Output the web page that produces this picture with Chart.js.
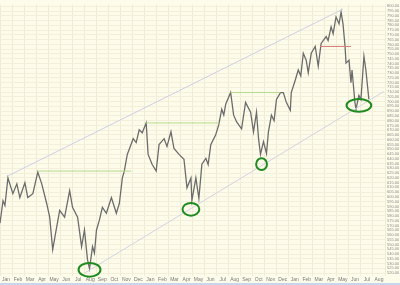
<!DOCTYPE html>
<html>
<head>
<meta charset="utf-8">
<script src="https://cdn.jsdelivr.net/npm/chart.js@4/dist/chart.umd.min.js"></script>
<style>
  body { margin: 0; background: #fdfcea; }
  #wrap { width: 400px; height: 283px; }
  #scroll { width: 400px; height: 2px; background: #c6d6ef; }
</style>
</head>
<body>
<div id="wrap"><canvas id="chart" width="400" height="283"></canvas></div>
<div id="scroll"></div>
<script>
// month labels along the bottom (Jan of year 1 .. Aug of year 3)
const monthLabels = ['Jan','Feb','Mar','Apr','May','Jun','Jul','Aug','Sep','Oct','Nov','Dec',
  'Jan','Feb','Mar','Apr','May','Jun','Jul','Aug','Sep','Oct','Nov','Dec',
  'Jan','Feb','Mar','Apr','May','Jun','Jul','Aug'];

// price path, x = months since first Jan
const priceMonth = [0, 0.25, 0.41, 0.66, 1.07, 1.40, 1.65, 2.07, 2.31, 2.73,
  3.14, 3.47, 3.88, 4.13, 4.38, 4.71, 4.96, 5.37, 5.79, 6.03,
  6.45, 6.78, 7.02, 7.27, 7.44, 7.69, 7.85, 8.02, 8.26, 8.51, 8.84,
  9.26, 9.67, 9.92, 10.17, 10.33, 10.58, 10.83, 11.07, 11.32, 11.57,
  11.82, 12.15, 12.31, 12.64, 12.98, 13.22, 13.64, 13.88, 14.21, 14.46,
  14.88, 15.29, 15.54, 15.87, 15.95, 16.28, 16.53, 16.78, 17.11, 17.30, 17.52,
  17.93, 18.18, 18.43, 18.60, 18.76, 19.17, 19.42, 19.67, 20.08, 20.41, 20.83,
  21.07, 21.32, 21.49, 21.65, 21.90, 22.15, 22.31, 22.56, 22.78, 22.98, 23.31,
  23.55, 23.80, 24.13, 24.21, 24.55, 24.79, 25.00, 25.21, 25.45, 25.62, 25.87,
  26.20, 26.45, 26.69, 27.11, 27.27, 27.52, 27.69, 27.93, 28.18, 28.35,
  28.51, 28.68, 28.76, 29.01, 29.17, 29.26, 29.50, 29.59, 29.83, 30.00,
  30.25, 30.41, 30.66];
const priceValue = [572.5, 596, 591, 619.9, 603.4, 613.7, 599.3, 614.8, 599.3, 603.4,
  626.1, 613.7, 593.1, 578.7, 544.7, 568.4, 585.9, 578.7, 606.5, 589.0,
  578.7, 547.8, 565.3, 534.4, 524.5, 547.8, 541.0, 565.3, 575.6, 589.0, 582.8,
  599.3, 582.8, 593.1, 619.9, 627.1, 644.6, 652.9, 661.1, 657.0, 670.4,
  667.3, 677.6, 644.6, 634.3, 627.1, 654.9, 661.1, 652.9, 668.3, 650.8,
  644.6, 639.5, 609.6, 619.9, 596.2, 619.9, 598.3, 634.3, 640.5, 634.0, 654.9,
  665.2, 675.5, 692.0, 686.0, 697.2, 709.5, 685.8, 678.6, 671.4, 699.2, 688.9,
  668.3, 688.9, 661.1, 644.6, 658.0, 645.7, 668.3, 685.8, 680.0, 702.3, 709.5,
  709.5, 699.2, 691.0, 709.5, 722.9, 733.2, 727.0, 750.7, 743.5, 730.1, 750.7,
  757.9, 737.3, 761.0, 768.2, 764.1, 778.5, 771.3, 788.8, 781.6, 794.0,
  781.6, 757.9, 740.4, 743.5, 719.8, 733.2, 699.2, 692.0, 706.4, 702.3,
  747.6, 733.2, 702.3];

// trend channel (start/end month, start/end price)
const upperChannel = [[0.66, 622.0], [28.51, 797.1]];
const lowerChannel = [[7.02, 520.0], [31.9, 710.6]];

// horizontal resistance levels
const greenLevels = [
  [[3.14, 627.1], [10.9, 627.1]],
  [[12.15, 677.6], [18.2, 677.6]],
  [[19.17, 709.5], [23.3, 709.5]]
];
const redLevel = [[26.6, 757.9], [29.17, 757.9]];

// circled lows
const circleMonth = [7.44, 15.87, 21.74, 29.83];
const circleValue = [523.5, 587.0, 634.3, 696.1];
const circleRadiusMonths = [0.91, 0.70, 0.45, 1.03];
const circleRadiusPrice = [7.2, 6.7, 6.2, 6.7];

const yMin = 517, yMax = 802, yStep = 5, yFirstTick = 520, yLastTick = 800;

const pts = (arr) => arr.map(p => ({x: p[0], y: p[1]}));

const datasets = [];
datasets.push({ data: pts(upperChannel), borderColor: '#cdcfe3', borderWidth: 1 });
datasets.push({ data: pts(lowerChannel), borderColor: '#d2d3e3', borderWidth: 1 });
greenLevels.forEach(l => datasets.push({ data: pts(l), borderColor: '#b4da8c', borderWidth: 1 }));
datasets.push({ data: pts(redLevel), borderColor: '#d77a74', borderWidth: 1 });
datasets.push({
  data: priceMonth.map((m, i) => ({x: m, y: priceValue[i]})),
  borderColor: '#6c6c6c',
  borderWidth: 1.3
});

const circlePlugin = {
  id: 'circles',
  afterDatasetsDraw(chart) {
    const {ctx, scales: {x, y}} = chart;
    ctx.save();
    ctx.strokeStyle = '#1f8a1f';
    ctx.lineWidth = 2;
    circleMonth.forEach((m, i) => {
      const cx = x.getPixelForValue(m);
      const cy = y.getPixelForValue(circleValue[i]);
      const rx = x.getPixelForValue(m + circleRadiusMonths[i]) - cx;
      const ry = cy - y.getPixelForValue(circleValue[i] + circleRadiusPrice[i]);
      ctx.beginPath();
      ctx.ellipse(cx, cy, rx, ry, 0, 0, Math.PI * 2);
      ctx.stroke();
    });
    ctx.restore();
  }
};

const chartEl = document.getElementById('chart');
new Chart(chartEl, {
  type: 'line',
  data: { datasets: datasets },
  options: {
    responsive: false,
    animation: false,
    events: [],
    layout: { padding: { left: 0, right: 1, top: 0, bottom: 0 } },
    elements: { point: { radius: 0 }, line: { tension: 0 } },
    plugins: { legend: { display: false }, tooltip: { enabled: false } },
    scales: {
      x: {
        type: 'linear',
        min: 0,
        max: 32,
        border: { display: false },
        grid: { color: '#f0ecd4', offset: true, drawTicks: false },
        afterBuildTicks: (scale) => {
          scale.ticks = monthLabels.map((_, i) => ({ value: i + 0.5 }));
        },
        afterFit: (scale) => { scale.height = 7; },
        ticks: {
          autoSkip: false,
          maxRotation: 0,
          padding: 1,
          color: '#7a7a7a',
          font: { family: 'Liberation Sans', size: 5 },
          callback: (v) => monthLabels[Math.floor(v)]
        }
      },
      y: {
        position: 'right',
        min: yMin,
        max: yMax,
        border: { display: false },
        grid: { color: '#f3efda', drawTicks: false },
        afterBuildTicks: (scale) => {
          const t = [];
          for (let v = yFirstTick; v <= yLastTick; v += yStep) t.push({ value: v });
          scale.ticks = t;
        },
        afterFit: (scale) => { scale.width = 14; },
        ticks: {
          autoSkip: false,
          padding: 2,
          color: '#8a8a8a',
          font: { family: 'Liberation Sans', size: 4 },
          callback: (v) => v.toFixed(2)
        }
      }
    }
  },
  plugins: [circlePlugin]
});
</script>
</body>
</html>
